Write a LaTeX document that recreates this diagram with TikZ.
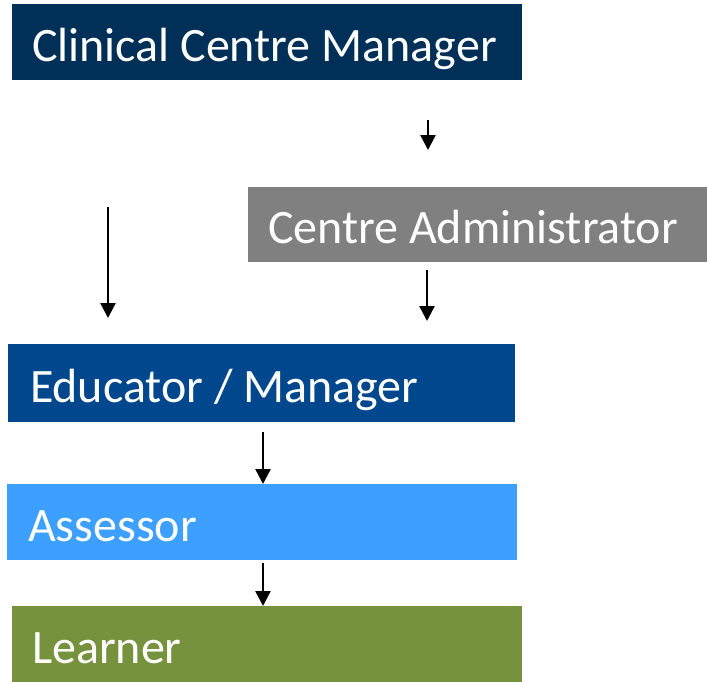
\documentclass[tikz,border=0pt]{standalone}
\usepackage{fontspec}
\setmainfont{Carlito}
\usetikzlibrary{arrows.meta}

\definecolor{ccmblue}{RGB}{0,48,87}
\definecolor{educblue}{RGB}{0,71,141}
\definecolor{assessblue}{RGB}{61,159,255}
\definecolor{admingray}{RGB}{128,128,128}
\definecolor{learnergreen}{RGB}{118,146,60}

\newcommand\rolebox[2]{\makebox[#1][l]{#2}}

\begin{document}
\begin{tikzpicture}[x=1pt, y=-1pt,
  role/.style={anchor=north west, fill=#1, text=white, minimum height=76pt,
    inner xsep=20pt, inner ysep=0pt, outer sep=0pt,
    text height=48pt, text depth=10pt, font=\fontsize{48}{56}\selectfont},
  arr/.style={-{Triangle[length=15pt,width=15pt]}, line width=2.4pt}]

\useasboundingbox (0,0) rectangle (707,681);

%boxes
\node[role=ccmblue] (ccm) at (12,4) {\rolebox{470pt}{Clinical Centre Manager}};
\node[role=admingray, minimum height=75pt] (admin) at (248,187) {\rolebox{419pt}{Centre Administrator}};
\node[role=educblue, inner xsep=22pt, minimum height=78pt] (educ) at (8,344) {\rolebox{463pt}{Educator / Manager}};
\node[role=assessblue, inner xsep=21pt] (assess) at (7,484) {\rolebox{468pt}{Assessor}};
\node[role=learnergreen] (learner) at (12,606) {\rolebox{470pt}{Learner}};

%arrows
\foreach \from/\to/\xx/\s/\e in {ccm/admin/428/40/37, ccm/educ/108/127/26,
    admin/educ/427/8/23, educ/assess/263/10/0, assess/learner/263/3/0}
\draw[arr, shorten <=\s pt, shorten >=\e pt] (\from.south -| \xx,0) -- (\to.north -| \xx,0);

\end{tikzpicture}
\end{document}
